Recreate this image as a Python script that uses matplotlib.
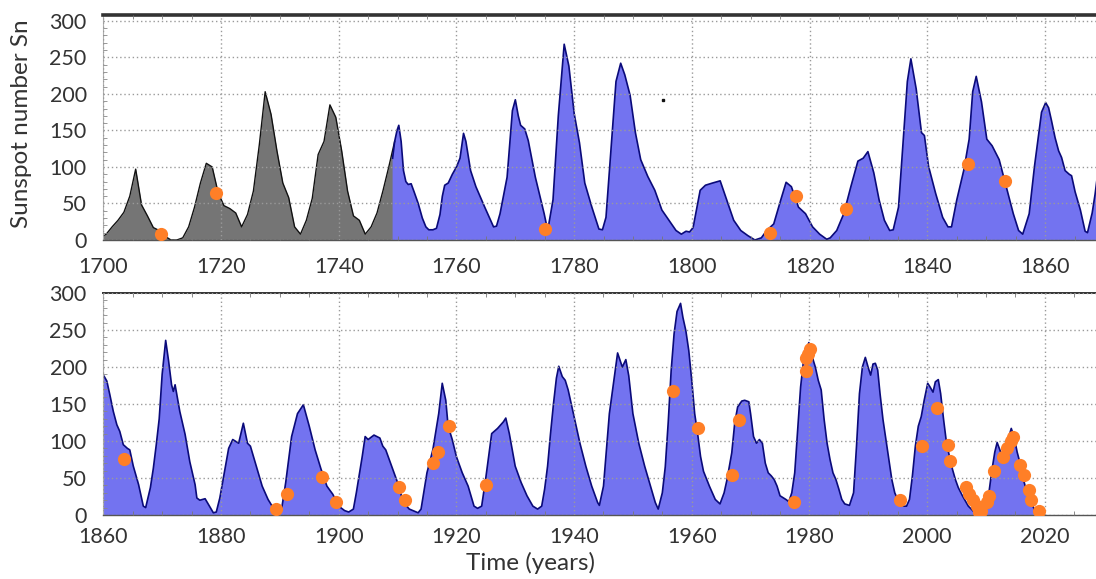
import matplotlib
matplotlib.use('Agg')
from matplotlib import pyplot as plt  # noqa
from matplotlib.ticker import MultipleLocator  # noqa

plt.rcParams['font.family'] = ['Lato', 'DejaVu Sans']

# yearly sunspot numbers 1700-1749 (grey part), plotted at mid-year
gray_years = [1700.0] + [y + 0.5 for y in range(1700, 1750)]
gray_vals = [5,
             8, 18, 27, 38, 60, 97, 48, 33, 17, 13,
             5, 0, 0, 3, 18, 45, 78, 105, 100, 65,
             47, 43, 37, 18, 35, 67, 130, 203, 172, 122,
             78, 58, 18, 8, 27, 57, 117, 135, 185, 168,
             122, 67, 33, 27, 8, 18, 37, 67, 100, 135]

# smoothed monthly sunspot number (blue part)
blue_years = [
    1749.15, 1749.5, 1749.9, 1750.2, 1750.6, 1751.0, 1751.4, 1751.8, 1752.3, 1752.8,
    1753.5, 1754.2, 1754.8, 1755.3, 1756.0, 1756.6, 1757.2, 1757.6, 1758.0, 1758.6,
    1759.3, 1760.0, 1760.6, 1761.2, 1761.6, 1762.4, 1763.3, 1764.8, 1766.3, 1766.8,
    1767.4, 1768.6, 1769.5, 1770.0, 1770.5, 1770.9, 1771.6, 1772.2, 1773.4, 1774.0,
    1774.9, 1775.5, 1776.4, 1777.3, 1778.3, 1779.1, 1780.0, 1780.9, 1781.8, 1783.0,
    1784.2, 1784.8, 1785.4, 1786.25, 1787.1, 1787.9, 1788.6, 1789.5, 1790.4, 1791.3,
    1792.5, 1793.7, 1794.9, 1796.1, 1797.3, 1798.2, 1799.0, 1799.6, 1800.2, 1801.4,
    1802.3, 1803.5, 1804.8, 1805.9, 1807.1, 1808.3, 1809.5, 1810.7, 1811.8, 1812.7,
    1813.9, 1815.1, 1816.0, 1816.9, 1818.1, 1819.3, 1820.5, 1821.7, 1822.9, 1823.5,
    1824.6, 1825.8, 1827.0, 1828.2, 1829.1, 1829.9, 1830.9, 1831.8, 1832.7, 1833.6,
    1834.2, 1835.1, 1836.0, 1836.6, 1837.2, 1838.1, 1839.0, 1839.5, 1840.2, 1841.4,
    1842.6, 1843.5, 1844.1, 1845.0, 1846.2, 1847.1, 1847.7, 1848.3, 1849.2, 1850.1,
    1851.0, 1852.2, 1853.4, 1854.6, 1855.5, 1856.2, 1857.3, 1858.2, 1859.4, 1860.1,
    1860.6, 1861.1, 1861.7, 1862.3, 1862.8, 1863.4, 1864.1, 1864.5, 1865.1, 1866.0,
    1866.8, 1867.2, 1868.0, 1868.5, 1869.0, 1869.5, 1870.0, 1870.6, 1871.1, 1871.6,
    1871.9, 1872.2, 1873.0, 1873.9, 1874.7, 1875.6, 1875.9, 1876.4, 1877.3, 1878.1,
    1878.7, 1879.2, 1879.8, 1880.6, 1881.3, 1882.0, 1883.0, 1883.8, 1884.5, 1885.0,
    1886.0, 1887.0, 1888.0, 1889.0, 1889.6, 1890.3, 1891.0, 1892.0, 1893.0, 1894.0,
    1895.0, 1896.0, 1897.0, 1898.0, 1899.0, 1900.0, 1901.0, 1901.7, 1902.5, 1903.0,
    1904.0, 1904.5, 1905.0, 1906.0, 1907.0, 1907.5, 1908.0, 1909.0, 1910.0, 1911.0,
    1912.0, 1913.5, 1914.0, 1915.0, 1916.0, 1917.0, 1917.6, 1918.2, 1918.6, 1919.3,
    1920.0, 1921.0, 1922.0, 1923.0, 1923.6, 1924.3, 1925.0, 1926.0, 1927.0, 1928.0,
    1928.4, 1929.0, 1930.0, 1931.0, 1932.0, 1933.0, 1933.8, 1934.5, 1935.0, 1935.5,
    1936.0, 1936.5, 1937.0, 1937.4, 1938.0, 1938.5, 1939.0, 1940.0, 1941.0, 1942.0,
    1943.0, 1944.0, 1944.3, 1945.0, 1946.0, 1947.4, 1948.2, 1948.8, 1949.3, 1950.0,
    1951.0, 1952.0, 1953.0, 1953.8, 1954.3, 1955.0, 1955.5, 1956.0, 1956.5, 1957.0,
    1957.5, 1958.1, 1958.5, 1959.0, 1959.5, 1960.0, 1960.5, 1961.0, 1961.5, 1962.0,
    1963.0, 1964.0, 1964.8, 1965.5, 1966.0, 1966.8, 1967.3, 1967.8, 1968.5, 1969.0,
    1969.7, 1970.0, 1970.5, 1971.0, 1971.5, 1972.0, 1972.5, 1973.0, 1973.5, 1974.0,
    1974.5, 1975.0, 1976.0, 1976.5, 1977.0, 1977.5, 1978.0, 1978.5, 1979.0, 1979.9,
    1980.5, 1981.0, 1981.5, 1982.0, 1982.5, 1983.0, 1983.5, 1984.0, 1984.5, 1985.0,
    1985.5, 1986.0, 1986.8, 1987.5, 1988.0, 1988.5, 1989.0, 1989.5, 1990.0, 1990.4,
    1990.8, 1991.2, 1991.6, 1992.0, 1992.5, 1993.0, 1993.5, 1994.0, 1994.5, 1995.0,
    1996.0, 1996.5, 1997.0, 1997.5, 1998.0, 1998.5, 1999.0, 1999.5, 2000.1, 2000.5,
    2001.0, 2001.4, 2001.9, 2002.3, 2002.8, 2003.3, 2003.8, 2004.3, 2004.8, 2005.3,
    2006.0, 2007.0, 2008.0, 2008.9, 2009.5, 2010.0, 2010.5, 2011.0, 2011.5, 2011.9,
    2012.5, 2013.0, 2013.5, 2014.3, 2014.8, 2015.3, 2015.8, 2016.3, 2016.8, 2017.3,
    2017.8, 2018.2]
blue_vals = [
    112, 135, 150, 157, 135, 95, 80, 76, 77, 66,
    50, 30, 18, 14, 14, 16, 35, 60, 75, 78,
    90, 100, 112, 146, 135, 95, 73, 45, 18, 19,
    36, 86, 177, 192, 170, 157, 152, 136, 86, 66,
    36, 13, 55, 170, 268, 238, 173, 133, 78, 45,
    15, 14, 31, 124, 217, 242, 226, 198, 147, 110,
    87, 68, 41, 27, 13, 8, 12, 11, 17, 68,
    75, 78, 81, 55, 27, 13, 6, 0, 3, 13,
    22, 55, 79, 73, 45, 36, 18, 8, 1, 3,
    13, 36, 73, 108, 112, 121, 92, 55, 27, 13,
    14, 45, 147, 217, 248, 207, 147, 143, 101, 64,
    31, 18, 18, 55, 96, 138, 203, 224, 189, 138,
    129, 110, 73, 36, 13, 8, 36, 101, 175, 188,
    181, 163, 140, 122, 113, 95, 90, 88, 66, 41,
    12, 10, 37, 63, 95, 130, 190, 236, 208, 176,
    167, 176, 140, 109, 72, 41, 23, 20, 22, 11,
    3, 4, 23, 59, 90, 102, 97, 124, 97, 93,
    66, 39, 21, 8, 6, 8, 44, 106, 137, 149,
    120, 88, 62, 39, 28, 12, 6, 4, 8, 30,
    79, 106, 102, 108, 104, 93, 88, 66, 44, 17,
    8, 3, 8, 57, 88, 137, 178, 155, 120, 102,
    79, 57, 39, 12, 9, 12, 50, 110, 117, 126,
    131, 110, 66, 44, 26, 12, 8, 12, 35, 66,
    110, 150, 185, 201, 187, 182, 169, 133, 97, 66,
    39, 17, 13, 39, 137, 219, 200, 210, 188, 137,
    97, 66, 39, 17, 8, 30, 65, 125, 195, 245,
    275, 286, 267, 249, 222, 182, 137, 110, 79, 59,
    39, 21, 15, 30, 48, 84, 124, 146, 154, 155,
    153, 137, 106, 97, 102, 97, 70, 57, 53, 48,
    39, 26, 21, 18, 30, 57, 115, 173, 209, 233,
    213, 200, 182, 169, 129, 97, 75, 57, 48, 35,
    21, 15, 13, 30, 93, 164, 200, 213, 199, 189,
    204, 205, 196, 164, 129, 102, 75, 48, 30, 21,
    12, 12, 21, 53, 93, 120, 133, 155, 178, 173,
    166, 180, 183, 164, 129, 97, 79, 62, 48, 37,
    26, 12, 4, 2, 8, 20, 30, 60, 85, 98,
    85, 80, 95, 117, 105, 85, 70, 50, 35, 25,
    15, 8]

# orange points
top_dot_years = [1709.8, 1719.2, 1775.0, 1813.3, 1817.6, 1826.1, 1846.9, 1853.2]
top_dot_vals = [8, 65, 15, 9, 60, 42, 104, 81]

bot_dot_years = [1863.5, 1889.4, 1891.3, 1897.1, 1899.5, 1910.2, 1911.2, 1916.0,
                 1916.8, 1918.8, 1925.1, 1956.8, 1961.1, 1966.8, 1968.0, 1977.4,
                 1979.4, 1979.5, 1979.8, 1980.1, 1995.4, 1999.1, 2001.6, 2003.6,
                 2003.9, 2006.6, 2007.2, 2007.8, 2008.5, 2008.8, 2009.2, 2010.2,
                 2010.6, 2011.3, 2012.9, 2013.6, 2014.2, 2014.6, 2015.7, 2016.4,
                 2017.3, 2017.6, 2019.0]
bot_dot_vals = [76, 8, 28, 52, 18, 38, 20, 70,
                85, 120, 40, 167, 117, 54, 128, 18,
                194, 212, 218, 224, 20, 93, 145, 94,
                73, 38, 29, 20, 12, 4, 6, 18,
                26, 60, 79, 90, 100, 106, 68, 54,
                34, 20, 5]

# stray dot in the upper panel
stray_year = [1795.1]
stray_val = [191]

X_TICK_STEP = 20
Y_TICKS = [0, 50, 100, 150, 200, 250, 300]

W, H = 1096, 579
fig = plt.figure(figsize=(W / 100, H / 100), dpi=100)
ax_top = fig.add_axes([103.3 / W, 1 - 240 / H, (W - 103.3) / W, 225 / H])
ax_bot = fig.add_axes([103.3 / W, 1 - 515 / H, (W - 103.3) / W, 222 / H])


def draw_series(ax):
    ax.fill_between(gray_years, gray_vals, 0, color='#757575', lw=0)
    ax.plot(gray_years, gray_vals, color='#111111', lw=1.0)
    ax.fill_between(blue_years, blue_vals, 0, color='#7373f0', lw=0)
    ax.plot(blue_years, blue_vals, color='#0a0a7a', lw=1.2)


def style_axes(ax, xlim, ylim, top_lw, label_pad):
    ax.set_xlim(*xlim)
    ax.set_ylim(*ylim)
    ax.xaxis.set_major_locator(MultipleLocator(X_TICK_STEP))
    ax.xaxis.set_minor_locator(MultipleLocator(5))
    ax.set_yticks(Y_TICKS)
    ax.yaxis.set_minor_locator(MultipleLocator(10))
    ax.set_axisbelow(False)
    ax.grid(True, which='major', color='#9a9a9a', linestyle=(0, (1, 2)), lw=1.0)
    ax.tick_params(axis='x', which='major', length=0, pad=label_pad,
                   labelsize=15.5, labelcolor='#333333')
    ax.tick_params(axis='y', which='major', length=0, pad=12,
                   labelsize=15.5, labelcolor='#333333')
    ax.tick_params(axis='x', which='minor', direction='in', length=3,
                   top=True, bottom=True, color='#777777')
    ax.tick_params(axis='y', which='minor', direction='in', length=3,
                   left=True, color='#888888')
    ax.spines['right'].set_visible(False)
    ax.spines['top'].set_linewidth(top_lw)
    ax.spines['top'].set_color('#333333')
    ax.spines['bottom'].set_linewidth(1.0)
    ax.spines['bottom'].set_color('#555555')
    ax.spines['left'].set_linewidth(0.8)
    ax.spines['left'].set_color('#b0b0b0')


draw_series(ax_top)
ax_top.plot(top_dot_years, top_dot_vals, 'o', color='#ff7f27', ms=9.5,
            mec='none', zorder=4)
ax_top.plot(stray_year, stray_val, 's', color='#111111', ms=2, zorder=4)
style_axes(ax_top, (1700, 1868.65), (0, 308), 2.6, 12)

draw_series(ax_bot)
ax_bot.plot(bot_dot_years, bot_dot_vals, 'o', color='#ff7f27', ms=9.5,
            mec='none', zorder=4)
style_axes(ax_bot, (1860, 2028.7), (0, 300), 1.4, 8.5)

fig.text(21.7 / W, 1 - 124 / H, 'Sunspot number Sn', rotation=90,
         ha='center', va='center', fontsize=17.5, color='#333333')
fig.text(530 / W, 1 - 563 / H, 'Time (years)', ha='center', va='center',
         fontsize=17.5, color='#333333')

fig.savefig('out.png', dpi=100)
